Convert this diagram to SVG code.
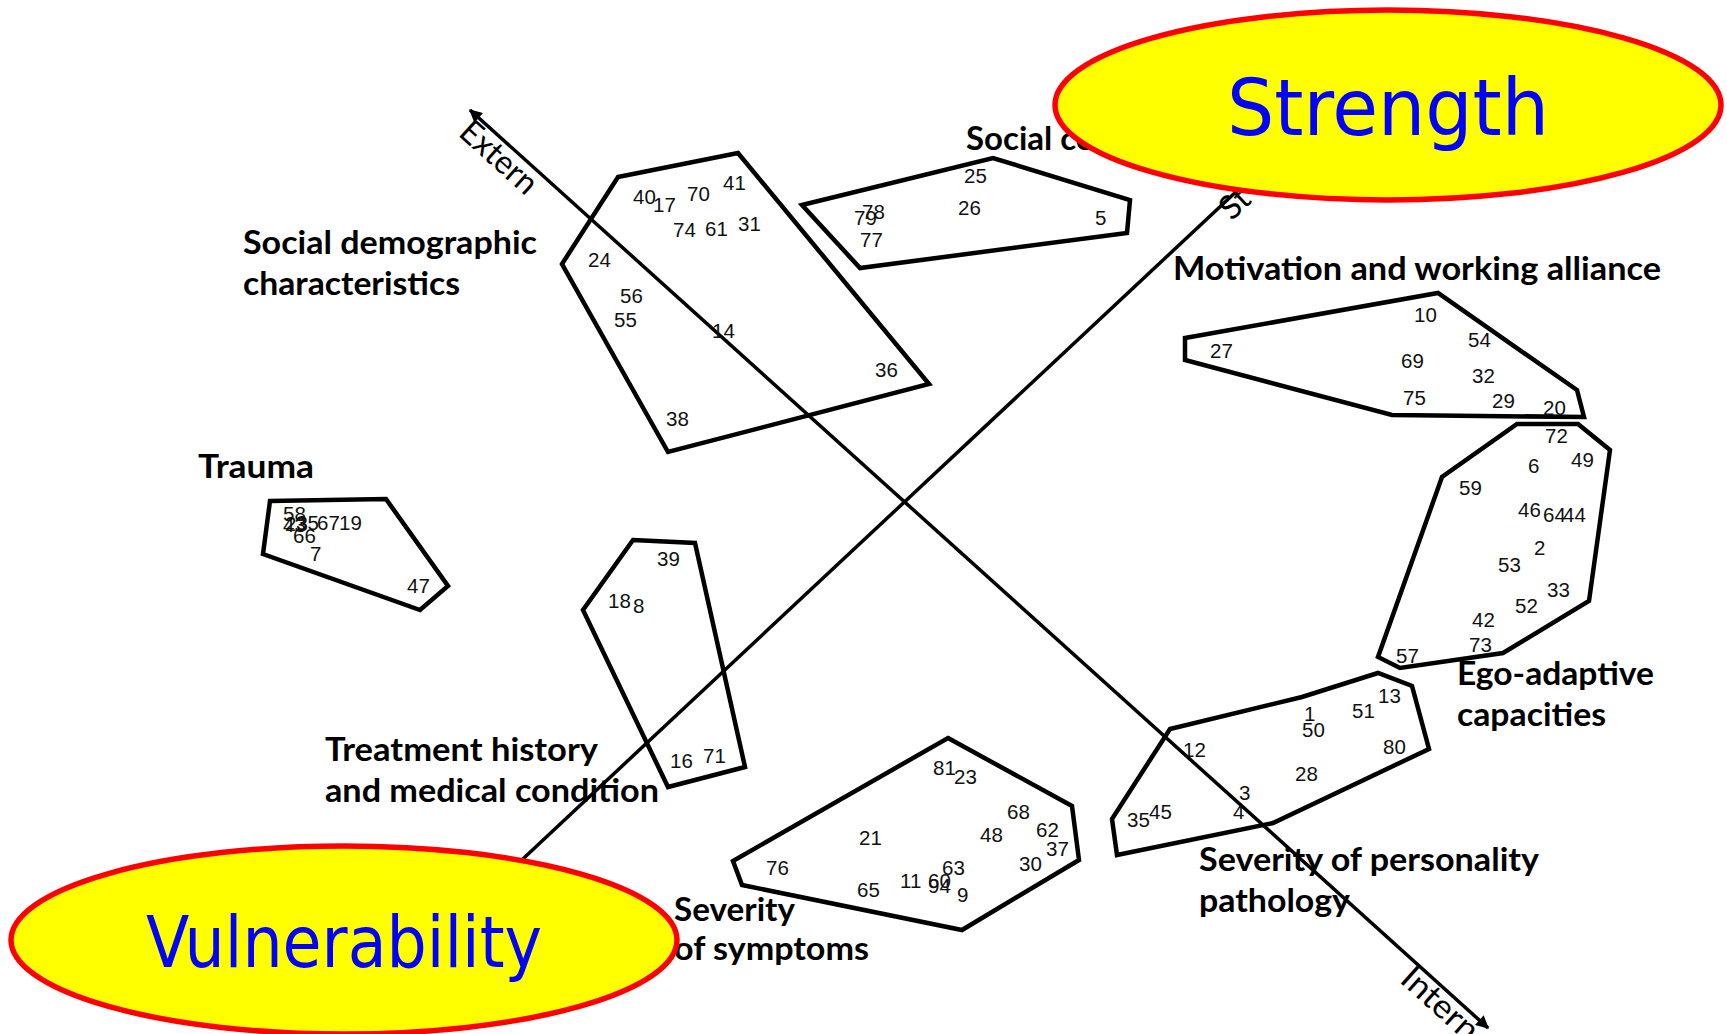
<svg xmlns="http://www.w3.org/2000/svg" width="1727" height="1034" viewBox="0 0 1727 1034">
<style>
.poly{fill:none;stroke:#000;stroke-width:4.5;stroke-linejoin:miter}
.axis{fill:none;stroke:#000;stroke-width:3.5}
.num{font-family:"Liberation Sans",Arial,sans-serif;font-size:20.5px;fill:#111}
.lbl{font-family:Lato,"Open Sans",sans-serif;font-weight:bold;font-size:33px;fill:#000}
.ax{font-family:Lato,"Open Sans",sans-serif;font-size:33px;fill:#000}
.oval{fill:#ffff00;stroke:#ff0000;stroke-width:5.5}
.big{font-family:"DejaVu Sans Condensed","DejaVu Sans",sans-serif;font-stretch:condensed;fill:#0000ff}
</style>
<defs>
<marker id="arr" viewBox="0 0 10 10" refX="9" refY="5" markerUnits="userSpaceOnUse" markerWidth="16" markerHeight="13" orient="auto-start-reverse">
<path d="M0,0 L10,5 L0,10 z" fill="#000"/>
</marker>
</defs>
<rect width="1727" height="1034" fill="#fff"/>

<g id="connectors">
<line class="axis" x1="470" y1="110" x2="1488" y2="1028" marker-start="url(#arr)" marker-end="url(#arr)"/>
<line class="axis" x1="480" y1="899" x2="1270" y2="160" marker-end="url(#arr)"/>
</g>

<g id="axis-labels">
<g transform="translate(468,108) rotate(42.06)">
<text class="ax" x="10" y="27" textLength="92" lengthAdjust="spacingAndGlyphs">Extern</text>
<text class="ax" x="1276" y="25" textLength="92" lengthAdjust="spacingAndGlyphs">Intern</text>
</g>
<g transform="translate(523,859) rotate(-43.17)">
<text class="ax" x="953" y="20">St</text>
</g>
</g>

<g id="social-demographic">
<polygon class="poly" points="618,177 738,153 929,384 668,452 562,264"/>
<text class="lbl" x="243" y="254" textLength="294" lengthAdjust="spacingAndGlyphs">Social demographic</text>
<text class="lbl" x="243" y="295" textLength="217" lengthAdjust="spacingAndGlyphs">characteristics</text>
<text class="num" x="633" y="204">40</text>
<text class="num" x="653" y="212">17</text>
<text class="num" x="687" y="201">70</text>
<text class="num" x="723" y="190">41</text>
<text class="num" x="673" y="237">74</text>
<text class="num" x="705" y="236">61</text>
<text class="num" x="738" y="231">31</text>
<text class="num" x="588" y="267">24</text>
<text class="num" x="620" y="303">56</text>
<text class="num" x="614" y="327">55</text>
<text class="num" x="712" y="338">14</text>
<text class="num" x="875" y="377">36</text>
<text class="num" x="666" y="426">38</text>
</g>

<g id="social-context">
<polygon class="poly" points="802,205 993,158 1130,200 1127,233 860,268"/>
<text class="lbl" x="966" y="150">Social co</text>
<text class="num" x="964" y="183">25</text>
<text class="num" x="958" y="215">26</text>
<text class="num" x="1095" y="225">5</text>
<text class="num" x="854" y="225">79</text>
<text class="num" x="862" y="219">78</text>
<text class="num" x="860" y="247">77</text>
</g>

<g id="trauma">
<polygon class="poly" points="270,501 386,499 448,586 420,610 263,554"/>
<text class="lbl" x="198" y="478" textLength="116" lengthAdjust="spacingAndGlyphs">Trauma</text>
<text class="num" x="283" y="521">58</text>
<text class="num" x="283" y="532">43</text>
<text class="num" x="285" y="531">23</text>
<text class="num" x="296" y="530">35</text>
<text class="num" x="317" y="530">67</text>
<text class="num" x="339" y="530">19</text>
<text class="num" x="293" y="543">66</text>
<text class="num" x="310" y="561">7</text>
<text class="num" x="407" y="593">47</text>
</g>

<g id="treatment-history">
<polygon class="poly" points="633,540 695,543 745,767 668,787 583,610"/>
<text class="lbl" x="325" y="761" textLength="273" lengthAdjust="spacingAndGlyphs">Treatment history</text>
<text class="lbl" x="325" y="802" textLength="334" lengthAdjust="spacingAndGlyphs">and medical condition</text>
<text class="num" x="657" y="566">39</text>
<text class="num" x="608" y="608">18</text>
<text class="num" x="633" y="613">8</text>
<text class="num" x="670" y="768">16</text>
<text class="num" x="703" y="763">71</text>
</g>

<g id="motivation">
<polygon class="poly" points="1185,338 1438,293 1577,390 1584,417 1392,415 1185,360"/>
<text class="lbl" x="1173" y="280" textLength="488" lengthAdjust="spacingAndGlyphs">Motivation and working alliance</text>
<text class="num" x="1414" y="322">10</text>
<text class="num" x="1468" y="347">54</text>
<text class="num" x="1210" y="358">27</text>
<text class="num" x="1401" y="368">69</text>
<text class="num" x="1472" y="383">32</text>
<text class="num" x="1403" y="405">75</text>
<text class="num" x="1492" y="408">29</text>
<text class="num" x="1543" y="415">20</text>
</g>

<g id="ego-adaptive">
<polygon class="poly" points="1517,424 1578,424 1610,450 1589,601 1503,653 1400,668 1378,657 1442,477"/>
<text class="lbl" x="1457" y="685" textLength="197" lengthAdjust="spacingAndGlyphs">Ego-adaptive</text>
<text class="lbl" x="1457" y="726" textLength="149" lengthAdjust="spacingAndGlyphs">capacities</text>
<text class="num" x="1545" y="443">72</text>
<text class="num" x="1571" y="467">49</text>
<text class="num" x="1528" y="473">6</text>
<text class="num" x="1459" y="495">59</text>
<text class="num" x="1518" y="517">46</text>
<text class="num" x="1543" y="522">64</text>
<text class="num" x="1563" y="522">44</text>
<text class="num" x="1534" y="555">2</text>
<text class="num" x="1498" y="572">53</text>
<text class="num" x="1547" y="597">33</text>
<text class="num" x="1515" y="613">52</text>
<text class="num" x="1472" y="627">42</text>
<text class="num" x="1469" y="652">73</text>
<text class="num" x="1396" y="663">57</text>
</g>

<g id="personality-pathology">
<polygon class="poly" points="1170,729 1302,697 1378,673 1412,686 1429,749 1273,823 1117,855 1112,819"/>
<text class="lbl" x="1199" y="871" textLength="340" lengthAdjust="spacingAndGlyphs">Severity of personality</text>
<text class="lbl" x="1199" y="912" textLength="151" lengthAdjust="spacingAndGlyphs">pathology</text>
<text class="num" x="1304" y="721">1</text>
<text class="num" x="1302" y="737">50</text>
<text class="num" x="1352" y="718">51</text>
<text class="num" x="1378" y="703">13</text>
<text class="num" x="1183" y="757">12</text>
<text class="num" x="1383" y="754">80</text>
<text class="num" x="1295" y="781">28</text>
<text class="num" x="1239" y="800">3</text>
<text class="num" x="1233" y="819">4</text>
<text class="num" x="1127" y="827">35</text>
<text class="num" x="1149" y="819">45</text>
</g>

<g id="symptoms">
<polygon class="poly" points="948,738 1072,806 1079,860 962,930 742,885 733,861"/>
<text class="lbl" x="674" y="921" textLength="121" lengthAdjust="spacingAndGlyphs">Severity</text>
<text class="lbl" x="674" y="960" textLength="195" lengthAdjust="spacingAndGlyphs">of symptoms</text>
<text class="num" x="933" y="775">81</text>
<text class="num" x="954" y="784">23</text>
<text class="num" x="1007" y="819">68</text>
<text class="num" x="1036" y="837">62</text>
<text class="num" x="1046" y="856">37</text>
<text class="num" x="980" y="842">48</text>
<text class="num" x="859" y="845">21</text>
<text class="num" x="1019" y="871">30</text>
<text class="num" x="942" y="875">63</text>
<text class="num" x="766" y="875">76</text>
<text class="num" x="857" y="897">65</text>
<text class="num" x="900" y="888">11</text>
<text class="num" x="928" y="888">60</text>
<text class="num" x="928" y="893">94</text>
<text class="num" x="957" y="902">9</text>
</g>

<g id="strength">
<ellipse class="oval" cx="1388" cy="105" rx="333" ry="95"/>
<text class="big" x="1388" y="135" font-size="78" text-anchor="middle" textLength="322" lengthAdjust="spacingAndGlyphs">Strength</text>
</g>

<g id="vulnerability">
<ellipse class="oval" cx="344" cy="940" rx="333" ry="94"/>
<text class="big" x="344" y="967" font-size="72" text-anchor="middle" textLength="396" lengthAdjust="spacingAndGlyphs">Vulnerability</text>
</g>
</svg>
